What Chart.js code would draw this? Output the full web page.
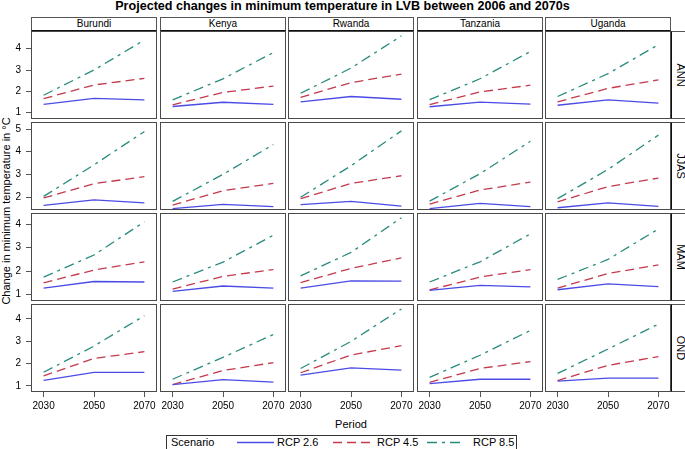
<!DOCTYPE html>
<html>
<head>
<meta charset="utf-8">
<script src="https://cdn.jsdelivr.net/npm/chart.js"></script>
<style>
  body { margin: 0; background: #fff; font-family: "Liberation Sans", Arial, sans-serif; }
  #wrap { position: relative; width: 685px; height: 449px; overflow: hidden; }
  .cell { position: absolute; }
  .txt { position: absolute; white-space: nowrap; color: #000; }
  .strip { position: absolute; box-sizing: border-box; border: 1px solid #555; border-bottom: 1px solid #111;
           background: #fff; font-size: 10px; text-align: center; line-height: 12px; }
  .rstrip { position: absolute; box-sizing: border-box; border: 1px solid #555; border-left: 1px solid #111;
            background: #fff; font-size: 11px; }
  .rstrip span { position: absolute; left: 50%; top: 50%; transform: translate(-50%, -50%) rotate(90deg); }
  #legend { position: absolute; left: 166px; top: 435px; width: 351px; height: 15px; box-sizing: border-box;
            border: 1px solid #333; font-size: 11px; }
  #legend span { position: absolute; top: 0px; line-height: 13px; }
</style>
</head>
<body>
<div id="wrap">
  <div class="txt" style="left:0;width:685px;top:-1px;text-align:center;font-weight:bold;font-size:12.6px;">Projected changes in minimum temperature in LVB between 2006 and 2070s</div>
  <div class="txt" style="left:6px;top:211px;font-size:11px;transform:translate(-50%,-50%) rotate(-90deg);">Change in minimum temperature in °C</div>
  <div class="txt" style="left:351px;top:418px;font-size:11px;transform:translateX(-50%);">Period</div>
  <div id="legend">
    <span style="left:4px">Scenario</span>
    <svg width="351" height="13" style="position:absolute;left:0;top:0">
      <line x1="70" y1="6.5" x2="107" y2="6.5" stroke="#4b4be6" stroke-width="1.3"/>
      <line x1="166" y1="6.5" x2="204" y2="6.5" stroke="#c43a4c" stroke-width="1.3" stroke-dasharray="9,5"/>
      <line x1="260" y1="6.5" x2="297" y2="6.5" stroke="#2a8c7e" stroke-width="1.3" stroke-dasharray="10,5,3,5"/>
    </svg>
    <span style="left:110px">RCP 2.6</span>
    <span style="left:210px">RCP 4.5</span>
    <span style="left:306px">RCP 8.5</span>
  </div>
</div>
<script>
// facets
const countries = ['Burundi', 'Kenya', 'Rwanda', 'Tanzania', 'Uganda'];
const seasons = ['ANN', 'JJAS', 'MAM', 'OND'];
const periods = [2030, 2050, 2070];
const scenarios = ['RCP 2.6', 'RCP 4.5', 'RCP 8.5'];

// values per season row -> country -> period
const rcp26 = [
    [[1.39, 1.67, 1.60], [1.29, 1.49, 1.39], [1.51, 1.76, 1.63], [1.28, 1.50, 1.40], [1.35, 1.60, 1.45]],
    [[1.63, 1.88, 1.74], [1.49, 1.68, 1.58], [1.67, 1.81, 1.60], [1.49, 1.72, 1.58], [1.53, 1.74, 1.59]],
    [[1.28, 1.56, 1.54], [1.14, 1.37, 1.28], [1.28, 1.59, 1.58], [1.18, 1.40, 1.33], [1.21, 1.46, 1.34]],
    [[1.25, 1.61, 1.61], [1.06, 1.28, 1.17], [1.48, 1.81, 1.71], [1.10, 1.30, 1.30], [1.22, 1.35, 1.35]]
];
const rcp45 = [
    [[1.66, 2.30, 2.61], [1.37, 1.95, 2.25], [1.72, 2.41, 2.81], [1.38, 1.97, 2.29], [1.51, 2.14, 2.54]],
    [[1.96, 2.59, 2.90], [1.65, 2.28, 2.60], [1.93, 2.60, 2.94], [1.69, 2.31, 2.66], [1.79, 2.46, 2.84]],
    [[1.50, 2.05, 2.40], [1.24, 1.78, 2.07], [1.51, 2.12, 2.57], [1.20, 1.75, 2.07], [1.28, 1.90, 2.27]],
    [[1.45, 2.23, 2.53], [1.06, 1.69, 2.04], [1.59, 2.38, 2.80], [1.16, 1.78, 2.09], [1.24, 1.92, 2.31]]
];
const rcp85 = [
    [[1.82, 3.00, 4.41], [1.60, 2.59, 3.82], [1.91, 3.09, 4.60], [1.61, 2.59, 3.87], [1.76, 2.83, 4.19]],
    [[2.03, 3.42, 4.89], [1.81, 3.00, 4.32], [1.99, 3.38, 4.92], [1.82, 3.03, 4.46], [1.93, 3.22, 4.73]],
    [[1.75, 2.69, 4.11], [1.54, 2.39, 3.53], [1.80, 2.80, 4.28], [1.54, 2.40, 3.59], [1.65, 2.50, 3.80]],
    [[1.61, 2.78, 4.14], [1.30, 2.28, 3.30], [1.78, 2.99, 4.44], [1.38, 2.37, 3.48], [1.56, 2.65, 3.76]]
];

// tick labels per row (free y scale per row)
const yTicks = [[1, 2, 3, 4], [2, 3, 4, 5], [1, 2, 3, 4], [1, 2, 3, 4]];
const yMin = [0.705, 1.43, 0.73, 0.73];
const yMax = [4.83, 5.31, 4.48, 4.66];

// look
const lineColors = ['#4b4be6', '#c43a4c', '#2a8c7e'];
const lineDashes = [[], [9, 5], [10, 5, 3, 5]];
const colLeft = [31, 160, 288, 417, 545];
const rowTop = [31, 122, 213, 304];
const panelW = 126, panelH = 88, yAxisW = 31, xAxisH = 26;
const fontFam = '"Liberation Sans", Arial, sans-serif';

const wrap = document.getElementById('wrap');
const series = [rcp26, rcp45, rcp85];

// frame round each panel
const boxPlugin = {
    id: 'box',
    afterDraw(chart) {
        const a = chart.chartArea, ctx = chart.ctx;
        ctx.save();
        ctx.strokeStyle = '#4a4a4a';
        ctx.lineWidth = 1;
        ctx.strokeRect(a.left + 0.5, a.top + 0.5, a.right - a.left - 1, a.bottom - a.top - 1);
        ctx.restore();
    }
};

// strip headers
countries.forEach((name, c) => {
    const d = document.createElement('div');
    d.className = 'strip';
    d.style.left = colLeft[c] + 'px';
    d.style.top = '17px';
    d.style.width = panelW + 'px';
    d.style.height = '14px';
    d.textContent = name;
    wrap.appendChild(d);
});
seasons.forEach((name, r) => {
    const d = document.createElement('div');
    d.className = 'rstrip';
    d.style.left = '671px';
    d.style.top = rowTop[r] + 'px';
    d.style.width = '20px';
    d.style.height = panelH + 'px';
    d.innerHTML = '<span>' + name + '</span>';
    wrap.appendChild(d);
});

function makePanel(r, c) {
    const showY = c === 0, showX = r === 3;
    const w = panelW + (showY ? yAxisW : 0);
    const h = panelH + (showX ? xAxisH : 0);
    const box = document.createElement('div');
    box.className = 'cell';
    box.style.left = (colLeft[c] - (showY ? yAxisW : 0)) + 'px';
    box.style.top = rowTop[r] + 'px';
    box.style.width = w + 'px';
    box.style.height = h + 'px';
    const cv = document.createElement('canvas');
    box.appendChild(cv);
    wrap.appendChild(box);

    new Chart(cv, {
        type: 'line',
        data: {
            datasets: series.map((s, k) => ({
                label: scenarios[k],
                data: periods.map((p, i) => ({ x: p, y: s[r][c][i] })),
                borderColor: lineColors[k],
                borderDash: lineDashes[k],
                borderWidth: 1.3,
                pointRadius: 0,
                fill: false,
                tension: 0
            }))
        },
        options: {
            responsive: true,
            maintainAspectRatio: false,
            devicePixelRatio: 1,
            animation: false,
            events: [],
            layout: { padding: 0, autoPadding: false },
            plugins: { legend: { display: false }, tooltip: { enabled: false } },
            scales: {
                x: {
                    type: 'linear',
                    min: 2025,
                    max: 2075,
                    display: showX,
                    afterBuildTicks: s => { s.ticks = periods.map(v => ({ value: v })); },
                    afterFit: s => {
                        s.height = showX ? xAxisH : 0;
                        s.paddingLeft = 0; s.paddingRight = 0;
                    },
                    grid: { drawOnChartArea: false, drawTicks: true, tickLength: 5, color: '#555' },
                    border: { display: false },
                    ticks: { color: '#000', font: { size: 10, family: fontFam }, padding: 3, maxRotation: 0,
                             callback: v => String(v) }
                },
                y: {
                    type: 'linear',
                    min: yMin[r],
                    max: yMax[r],
                    display: showY,
                    afterBuildTicks: s => { s.ticks = yTicks[r].map(v => ({ value: v })); },
                    afterFit: s => {
                        s.width = showY ? yAxisW : 0;
                        s.paddingTop = 0; s.paddingBottom = 0;
                    },
                    grid: { drawOnChartArea: false, drawTicks: true, tickLength: 5, color: '#555' },
                    border: { display: false },
                    ticks: { color: '#000', font: { size: 10, family: fontFam }, padding: 5,
                             callback: v => String(v) }
                }
            }
        },
        plugins: [boxPlugin]
    });
}

for (let r = 0; r < seasons.length; r++) {
    for (let c = 0; c < countries.length; c++) {
        makePanel(r, c);
    }
}
</script>
</body>
</html>
